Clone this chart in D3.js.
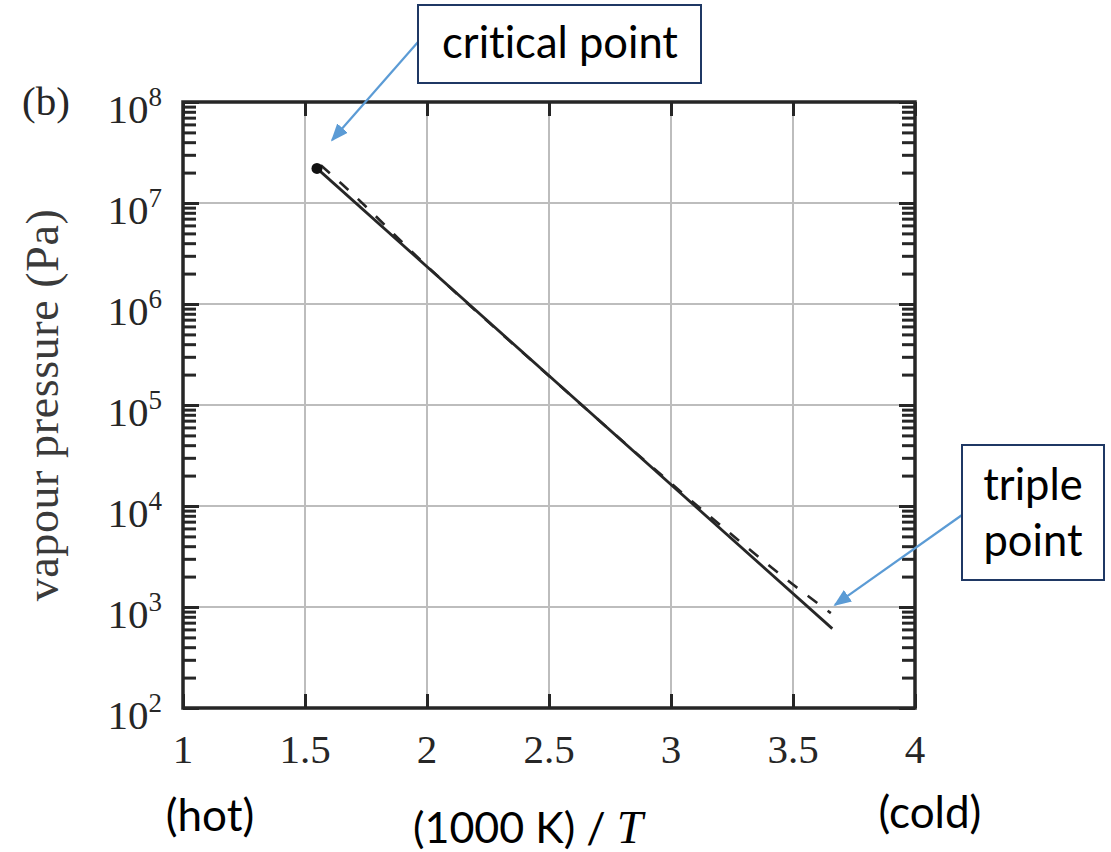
<!DOCTYPE html>
<html>
<head>
<meta charset="utf-8">
<script src="https://cdn.jsdelivr.net/npm/d3@7"></script>
<style>
  html, body { margin: 0; padding: 0; background: #fff; }
  svg { display: block; }
  text { font-variant-ligatures: none; }
</style>
</head>
<body>
<svg id="chart" width="1111" height="852"></svg>
<script>
// Inverse temperature (1000 K / T) and vapour pressure (Pa) of water

// straight line between the critical point and the triple point
const solidInvT = [1.549, 3.661];
const solidPressure = [2.2e7, 611];

// measured vapour-pressure curve (dashed)
const dashedInvT = [1.565, 1.65, 2.0, 2.5, 3.0, 3.3, 3.5, 3.655];
const dashedPressure = [2.36e7, 1.55e7, 2.37e6, 1.94e5, 1.68e4, 4.11e3, 1.67e3, 870];

// critical point marker
const criticalInvT = [1.549];
const criticalPressure = [2.2e7];

// axis ticks
const xTicks = [1, 1.5, 2, 2.5, 3, 3.5, 4];
const xTickLabels = ["1", "1.5", "2", "2.5", "3", "3.5", "4"];
const yExponents = [2, 3, 4, 5, 6, 7, 8];
const yTickLabels = ["10", "10", "10", "10", "10", "10", "10"];

const svg = d3.select("#chart");
const plotLeft = 183, plotRight = 915, plotTop = 102, plotBottom = 708;

const x = d3.scaleLinear().domain([1, 4]).range([plotLeft, plotRight]);
const y = d3.scaleLog().domain([1e2, 1e8]).range([plotBottom, plotTop]);

const serif = "'Liberation Serif', 'Times New Roman', serif";
const sans = "Lato, 'Open Sans', sans-serif";
const ink = "#262626";

// grid
const g = svg.append("g");
g.selectAll("line.gx").data(xTicks.slice(1, -1)).join("line")
  .attr("x1", d => x(d)).attr("x2", d => x(d))
  .attr("y1", plotTop).attr("y2", plotBottom)
  .attr("stroke", "#bdbdbd").attr("stroke-width", 2);
g.selectAll("line.gy").data(yExponents.slice(1, -1)).join("line")
  .attr("y1", d => y(Math.pow(10, d))).attr("y2", d => y(Math.pow(10, d)))
  .attr("x1", plotLeft).attr("x2", plotRight)
  .attr("stroke", "#bdbdbd").attr("stroke-width", 2);

// axes with inward ticks
const minorVals = [];
for (let e = 2; e < 8; e++) for (let m = 2; m <= 9; m++) minorVals.push(m * Math.pow(10, e));

function yAxisTicks(axisGen, xpos) {
  const a = svg.append("g").attr("transform", `translate(${xpos},0)`);
  a.call(axisGen);
  a.select(".domain").remove();
  a.selectAll("text").remove();
  a.selectAll("line").attr("stroke", ink).attr("stroke-width", 3);
  return a;
}
yAxisTicks(d3.axisRight(y).tickValues(yExponents.map(e => Math.pow(10, e))).tickSize(16), plotLeft);
yAxisTicks(d3.axisRight(y).tickValues(minorVals).tickSize(13), plotLeft);
yAxisTicks(d3.axisLeft(y).tickValues(yExponents.map(e => Math.pow(10, e))).tickSize(16), plotRight);
yAxisTicks(d3.axisLeft(y).tickValues(minorVals).tickSize(13), plotRight);

function xAxisTicks(axisGen, ypos) {
  const a = svg.append("g").attr("transform", `translate(0,${ypos})`);
  a.call(axisGen);
  a.select(".domain").remove();
  a.selectAll("text").remove();
  a.selectAll("line").attr("stroke", ink).attr("stroke-width", 3);
}
xAxisTicks(d3.axisTop(x).tickValues(xTicks).tickSize(14), plotBottom);
xAxisTicks(d3.axisBottom(x).tickValues(xTicks).tickSize(14), plotTop);

// frame
svg.append("rect")
  .attr("x", plotLeft).attr("y", plotTop)
  .attr("width", plotRight - plotLeft).attr("height", plotBottom - plotTop)
  .attr("fill", "none").attr("stroke", ink).attr("stroke-width", 3.5);

// tick labels
svg.append("g").selectAll("text").data(xTicks).join("text")
  .attr("x", d => x(d)).attr("y", plotBottom + 55)
  .attr("text-anchor", "middle")
  .attr("font-family", serif).attr("font-size", 41).attr("fill", ink)
  .text((d, i) => xTickLabels[i]);

const yl = svg.append("g").selectAll("text").data(yExponents).join("text")
  .attr("x", plotLeft - 21).attr("y", d => y(Math.pow(10, d)) + 21)
  .attr("text-anchor", "end")
  .attr("font-family", serif).attr("font-size", 41).attr("fill", ink);
yl.append("tspan").text((d, i) => yTickLabels[i]);
yl.append("tspan").attr("dy", -17).attr("font-size", 27).text(d => d);

// panel letter and axis title
svg.append("text").attr("x", 22).attr("y", 115)
  .attr("font-family", serif).attr("font-size", 41).attr("fill", ink)
  .text("(b)");
svg.append("text")
  .attr("transform", `translate(58,${(plotTop + plotBottom) / 2}) rotate(-90)`)
  .attr("text-anchor", "middle")
  .attr("font-family", serif).attr("font-size", 46).attr("fill", "#3a3a3a")
  .attr("letter-spacing", 0.6)
  .text("vapour pressure (Pa)");

// curves
const line = d3.line().x(d => x(d[0])).y(d => y(d[1]));
svg.append("path")
  .datum(dashedInvT.map((t, i) => [t, dashedPressure[i]]))
  .attr("d", line.curve(d3.curveMonotoneX))
  .attr("fill", "none").attr("stroke", ink).attr("stroke-width", 2.6)
  .attr("stroke-dasharray", "12 13");
svg.append("path")
  .datum(solidInvT.map((t, i) => [t, solidPressure[i]]))
  .attr("d", d3.line().x(d => x(d[0])).y(d => y(d[1])))
  .attr("fill", "none").attr("stroke", ink).attr("stroke-width", 2.8);
svg.selectAll("circle.cp").data(criticalInvT).join("circle")
  .attr("cx", d => x(d)).attr("cy", (d, i) => y(criticalPressure[i]))
  .attr("r", 5.5).attr("fill", "#111");

// annotations
const blue = "#5b9bd5", navy = "#1f3864";
svg.append("defs").append("marker")
  .attr("id", "arrow").attr("viewBox", "0 0 10 10")
  .attr("refX", 9).attr("refY", 5)
  .attr("markerWidth", 8).attr("markerHeight", 8)
  .attr("markerUnits", "strokeWidth")
  .attr("orient", "auto")
  .append("path").attr("d", "M0,1 L10,5 L0,9 z").attr("fill", blue);

function arrow(x1, y1, x2, y2) {
  svg.append("line").attr("x1", x1).attr("y1", y1).attr("x2", x2).attr("y2", y2)
    .attr("stroke", blue).attr("stroke-width", 2.2).attr("marker-end", "url(#arrow)");
}
arrow(418, 42, x(1.611), y(4.2e7));
arrow(962, 515, x(3.672), y(1.05e3));

function box(x0, y0, w, h, lines, baselines, cx) {
  svg.append("rect").attr("x", x0).attr("y", y0).attr("width", w).attr("height", h)
    .attr("fill", "#fff").attr("stroke", navy).attr("stroke-width", 2);
  lines.forEach((t, i) => {
    svg.append("text").attr("x", cx).attr("y", baselines[i])
      .attr("text-anchor", "middle")
      .attr("font-family", sans).attr("font-size", 43.5).attr("fill", "#000")
      .text(t);
  });
}
box(418, 5, 283, 78, ["critical point"], [58], 560);
box(962, 445, 142, 135, ["triple", "point"], [500, 556], 1033);

// hot / cold hints under the axis
svg.append("text").attr("x", 210).attr("y", 831).attr("text-anchor", "middle")
  .attr("font-family", sans).attr("font-size", 44).attr("fill", "#000").text("(hot)");
svg.append("text").attr("x", 930).attr("y", 828).attr("text-anchor", "middle")
  .attr("font-family", sans).attr("font-size", 44).attr("fill", "#000").text("(cold)");
const xt = svg.append("text").attr("x", 413).attr("y", 843)
  .attr("font-family", sans).attr("font-size", 43).attr("fill", "#000");
xt.append("tspan").text("(1000 K) / ");
xt.append("tspan").attr("font-family", serif).attr("font-style", "italic")
  .attr("font-size", 47).text("T");
</script>
</body>
</html>
